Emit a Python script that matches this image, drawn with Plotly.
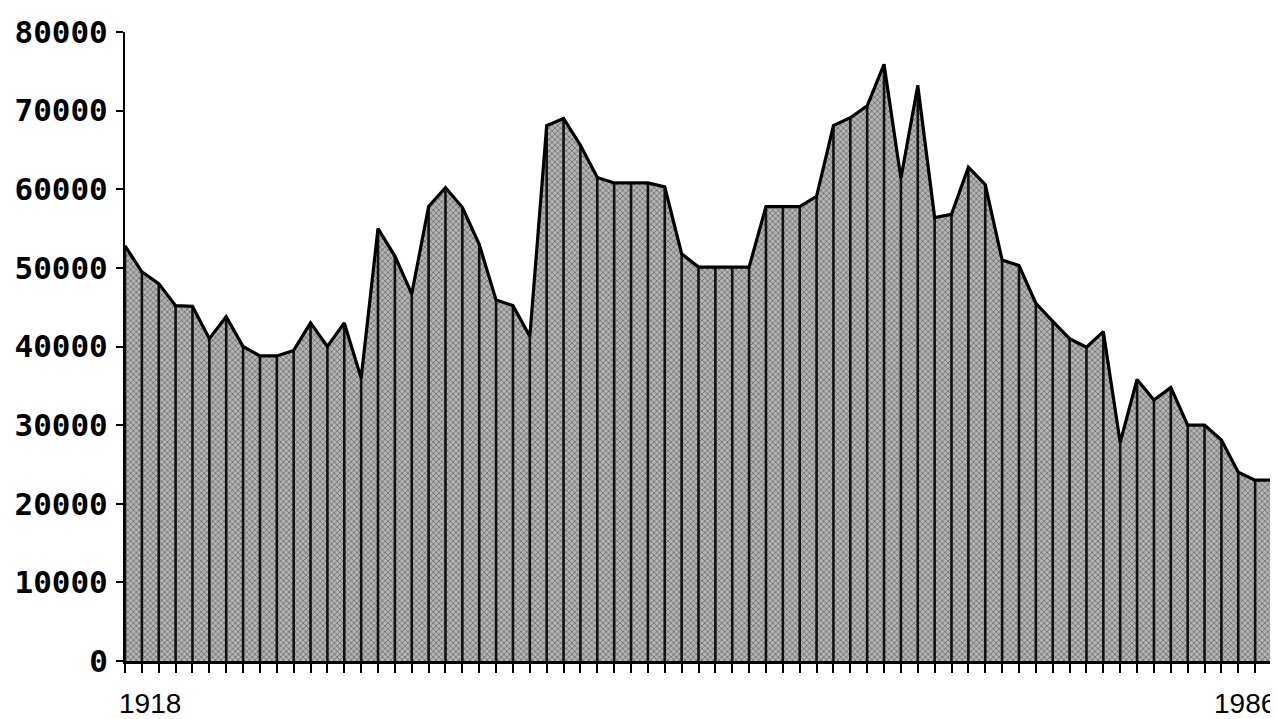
import plotly.graph_objects as go

years = list(range(1918, 1987))
values = [
    52800, 49500, 48000, 45200, 45100, 41000, 43800, 40000, 38800, 38800,
    39500, 43000, 40000, 43000, 36000, 55000, 51500, 46700, 57800, 60200,
    57700, 53000, 45900, 45200, 41300, 68100, 69000, 65600, 61500, 60800,
    60800, 60800, 60300, 51800, 50100, 50100, 50100, 50100, 57800, 57800,
    57800, 59100, 68100, 69100, 70600, 75900, 61400, 73200, 56400, 56800,
    62800, 60600, 51000, 50300, 45500, 43200, 41000, 39900, 41900, 27800,
    35800, 33200, 34800, 30000, 30000, 28100, 24000, 23000, 23000,
]
y_ticks = [0, 10000, 20000, 30000, 40000, 50000, 60000, 70000, 80000]
y_tick_labels = [str(v) for v in y_ticks]
x_labels = ["1918", "1986"]

# vertical drop lines from the baseline to each value
drop_x, drop_y = [], []
for yr, v in zip(years, values):
    drop_x += [yr, yr, None]
    drop_y += [0, v, None]

fig = go.Figure()

fig.add_trace(go.Scatter(
    x=years, y=values, mode="lines",
    line=dict(color="black", width=0),
    fill="tozeroy",
    fillcolor="#b4b4b4",
    fillpattern=dict(shape="x", fgcolor="#000000", bgcolor="#b4b4b4",
                     size=4, solidity=0.3),
    hoverinfo="skip", showlegend=False,
))

fig.add_trace(go.Scatter(
    x=drop_x, y=drop_y, mode="lines",
    line=dict(color="#111111", width=2.6),
    hoverinfo="skip", showlegend=False,
))

fig.add_trace(go.Scatter(
    x=years, y=values, mode="lines",
    line=dict(color="black", width=3.2),
    hoverinfo="skip", showlegend=False,
))

fig.update_layout(
    width=1270, height=711,
    margin=dict(l=115, r=6, t=18, b=58),
    paper_bgcolor="white", plot_bgcolor="white",
    xaxis=dict(
        range=[1918, 1986], tickvals=years, showticklabels=False,
        ticks="outside", ticklen=9, tickwidth=2, tickcolor="black",
        showline=True, linewidth=3, linecolor="black",
        showgrid=False, zeroline=False,
    ),
    yaxis=dict(
        range=[0, 80000], tickvals=y_ticks, ticktext=y_tick_labels,
        ticks="outside", ticklen=7, tickwidth=2, tickcolor="black",
        ticklabelstandoff=2, ticklabeloverflow="allow",
        tickfont=dict(family="DejaVu Sans Mono", size=31, color="black", weight="bold"),
        showline=True, linewidth=2, linecolor="black",
        showgrid=False, zeroline=False,
    ),
    annotations=[
        dict(x=years[0], y=0, xref="x", yref="paper", text=x_labels[0],
             showarrow=False, xanchor="left", yanchor="middle",
             xshift=-8, yshift=-42,
             font=dict(family="Liberation Sans", size=28, color="black")),
        dict(x=years[-1], y=0, xref="x", yref="paper", text=x_labels[1],
             showarrow=False, xanchor="right", yanchor="middle",
             xshift=6, yshift=-42,
             font=dict(family="Liberation Sans", size=28, color="black")),
    ],
)

fig.write_html("out.html")
